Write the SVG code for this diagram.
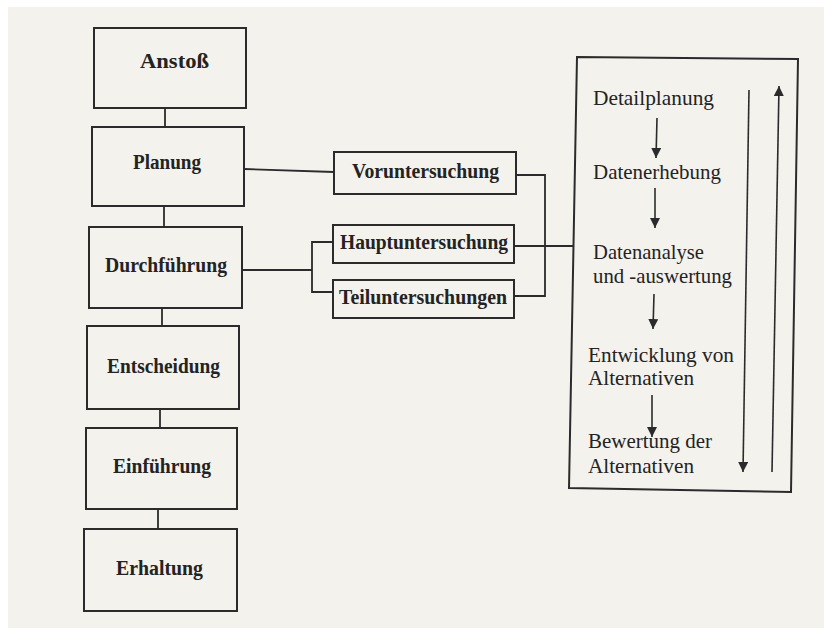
<svg xmlns="http://www.w3.org/2000/svg" width="824" height="630" viewBox="0 0 824 630">
  <style>
    .box { fill: none; stroke: #2b2b2b; stroke-width: 2; }
    .wire { fill: none; stroke: #2b2b2b; stroke-width: 1.8; }
    .arrow { fill: none; stroke: #2b2b2b; stroke-width: 1.6; marker-end: url(#head); }
    .lbl { font-family: "Liberation Serif", "Times New Roman", serif; font-weight: bold; font-size: 20.5px; fill: #232323; }
    .step { font-family: "Liberation Serif", "Times New Roman", serif; font-size: 22px; fill: #232323; }
  </style>
  <defs>
    <marker id="head" viewBox="0 0 10 10" refX="10" refY="5" markerWidth="10" markerHeight="10" markerUnits="userSpaceOnUse" orient="auto">
      <path d="M0,0 L10,5 L0,10 z" fill="#2b2b2b"/>
    </marker>
  </defs>

  <!-- paper -->
  <rect x="0" y="0" width="824" height="630" fill="#ffffff"/>
  <rect x="8" y="7" width="816" height="621" fill="#f4f2ec"/>

  <!-- connectors -->
  <g id="connectors">
    <line class="wire" x1="165" y1="108" x2="165" y2="127"/>
    <line class="wire" x1="164" y1="206" x2="164" y2="227"/>
    <line class="wire" x1="162" y1="308" x2="162" y2="326"/>
    <line class="wire" x1="160" y1="409" x2="160" y2="428"/>
    <line class="wire" x1="158" y1="509" x2="158" y2="529"/>
    <polyline class="wire" points="244,169 334,172"/>
    <polyline class="wire" points="242,270 312,270"/>
    <polyline class="wire" points="333,242 312,242 312,292 333,292"/>
    <polyline class="wire" points="516,175 545,175 545,296 514,296"/>
    <polyline class="wire" points="514,246 573,246"/>
  </g>

  <!-- phase chain -->
  <g id="anstoss">
    <rect class="box" x="94" y="28" width="152" height="80"/>
    <text class="lbl" x="140" y="68" textLength="69" lengthAdjust="spacingAndGlyphs">Anstoß</text>
  </g>
  <g id="planung">
    <rect class="box" x="92" y="127" width="152" height="79"/>
    <text class="lbl" x="133" y="169" textLength="68" lengthAdjust="spacingAndGlyphs">Planung</text>
  </g>
  <g id="durchfuehrung">
    <rect class="box" x="89" y="227" width="153" height="81"/>
    <text class="lbl" x="105" y="272" textLength="122" lengthAdjust="spacingAndGlyphs">Durchführung</text>
  </g>
  <g id="entscheidung">
    <rect class="box" x="87" y="326" width="152" height="83"/>
    <text class="lbl" x="107" y="373" textLength="113" lengthAdjust="spacingAndGlyphs">Entscheidung</text>
  </g>
  <g id="einfuehrung">
    <rect class="box" x="86" y="428" width="151" height="81"/>
    <text class="lbl" x="113" y="473" textLength="98" lengthAdjust="spacingAndGlyphs">Einführung</text>
  </g>
  <g id="erhaltung">
    <rect class="box" x="84" y="529" width="153" height="82"/>
    <text class="lbl" x="116" y="575" textLength="87" lengthAdjust="spacingAndGlyphs">Erhaltung</text>
  </g>

  <!-- investigation types -->
  <g id="voruntersuchung">
    <rect class="box" x="334" y="152" width="182" height="42"/>
    <text class="lbl" x="352" y="178" textLength="147" lengthAdjust="spacingAndGlyphs">Voruntersuchung</text>
  </g>
  <g id="hauptuntersuchung">
    <rect class="box" x="333" y="225" width="181" height="38"/>
    <text class="lbl" x="340" y="249" textLength="168" lengthAdjust="spacingAndGlyphs">Hauptuntersuchung</text>
  </g>
  <g id="teiluntersuchungen">
    <rect class="box" x="333" y="280" width="181" height="38"/>
    <text class="lbl" x="339" y="304" textLength="168" lengthAdjust="spacingAndGlyphs">Teiluntersuchungen</text>
  </g>

  <!-- study procedure -->
  <g id="ablauf">
    <polygon class="box" points="577,57 798,59 791,492 569,488"/>
    <text class="step" x="593" y="105" textLength="121" lengthAdjust="spacingAndGlyphs">Detailplanung</text>
    <line class="arrow" x1="657" y1="118" x2="656" y2="158"/>
    <text class="step" x="593" y="179" textLength="128" lengthAdjust="spacingAndGlyphs">Datenerhebung</text>
    <line class="arrow" x1="655" y1="188" x2="655" y2="228"/>
    <text class="step" x="593" y="259" textLength="111" lengthAdjust="spacingAndGlyphs">Datenanalyse</text>
    <text class="step" x="593" y="283" textLength="139" lengthAdjust="spacingAndGlyphs">und -auswertung</text>
    <line class="arrow" x1="654" y1="294" x2="653" y2="329"/>
    <text class="step" x="588" y="362" textLength="146" lengthAdjust="spacingAndGlyphs">Entwicklung von</text>
    <text class="step" x="588" y="385" textLength="106" lengthAdjust="spacingAndGlyphs">Alternativen</text>
    <line class="arrow" x1="652" y1="395" x2="652" y2="437"/>
    <text class="step" x="588" y="448" textLength="124" lengthAdjust="spacingAndGlyphs">Bewertung der</text>
    <text class="step" x="588" y="473" textLength="106" lengthAdjust="spacingAndGlyphs">Alternativen</text>
    <line class="arrow" x1="749" y1="90" x2="743" y2="472"/>
    <line class="arrow" x1="772" y1="472" x2="779" y2="86"/>
  </g>
</svg>
